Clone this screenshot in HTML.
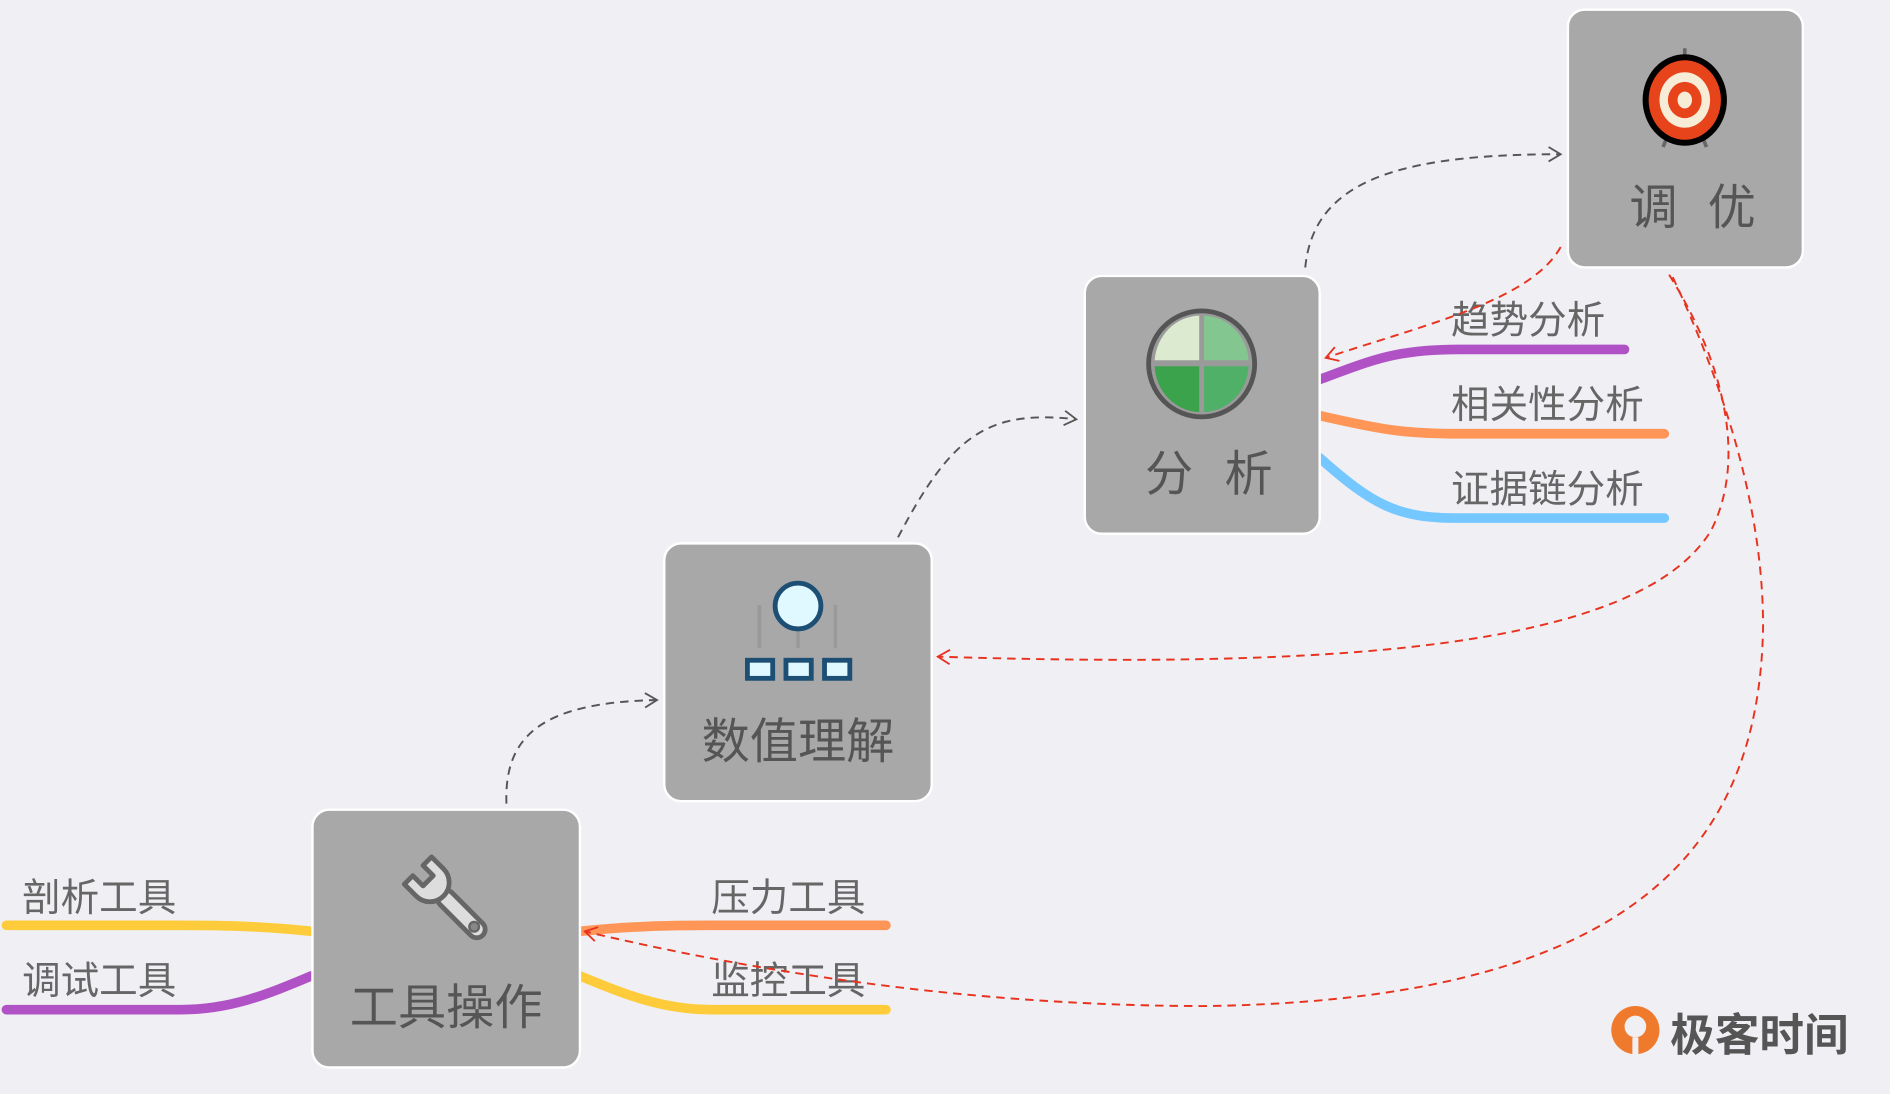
<!DOCTYPE html>
<html><head><meta charset="utf-8"><style>
html,body{margin:0;padding:0;background:#efeff4;}
svg{display:block}
text{font-family:"Liberation Sans","Noto Sans CJK SC",sans-serif;}
</style></head><body>
<svg width="1890" height="1094" viewBox="0 0 1568 908" xmlns="http://www.w3.org/2000/svg">
<rect width="1568" height="908" fill="#efeff4"/>
<defs>
<marker id="ag" markerWidth="14" markerHeight="14" refX="11" refY="7" orient="auto" markerUnits="userSpaceOnUse"><path d="M1,1 L11,7 L1,13" fill="none" stroke="#555" stroke-width="1.5"/></marker>
<marker id="ar" markerWidth="14" markerHeight="14" refX="11" refY="7" orient="auto" markerUnits="userSpaceOnUse"><path d="M1,1 L11,7 L1,13" fill="none" stroke="#e8321e" stroke-width="1.5"/></marker>
</defs>
<g fill="none" stroke-linecap="round" stroke-width="8">
<path d="M258,773 C220,769 190,768 150,768 L5,768" stroke="#fecc3a"/>
<path d="M258,810 C220,826 190,838 150,838 L5,838" stroke="#b052c6"/>
<path d="M481,773 C520,769 550,768 590,768 L735,768" stroke="#ff9657"/>
<path d="M481,810 C520,826 550,838 590,838 L735,838" stroke="#fecc3a"/>
<path d="M1095,315 C1140,298 1160,290 1210,290 L1348,290" stroke="#b052c6"/>
<path d="M1095,345 C1140,355 1160,360 1210,360 L1381,360" stroke="#ff9657"/>
<path d="M1095,380 C1140,420 1160,430 1210,430 L1381,430" stroke="#74c7ff"/>
</g>
<g fill="#a8a8a8" stroke="#fff" stroke-width="2">
<rect x="259" y="672" width="222" height="214" rx="14"/>
<rect x="551" y="451" width="222" height="214" rx="14"/>
<rect x="900" y="229" width="195" height="214" rx="14"/>
<rect x="1301" y="8" width="195" height="214" rx="14"/>
</g>
<g fill="#555" font-size="40" text-anchor="middle">
<text x="370" y="850">工具操作</text>
<text x="662" y="629">数值理解</text>
<text x="970" y="407">分</text><text x="1036" y="407">析</text>
<text x="1372" y="186">调</text><text x="1437" y="186">优</text>
</g>
<g fill="#666" font-size="32">
<text x="18" y="756">剖析工具</text>
<text x="18" y="825">调试工具</text>
<text x="590" y="756">压力工具</text>
<text x="590" y="825">监控工具</text>
<text x="1204" y="277">趋势分析</text>
<text x="1204" y="347">相关性分析</text>
<text x="1204" y="417">证据链分析</text>
</g>
<g transform="translate(372,748) rotate(-45)">
<rect x="-7" y="-10" width="14" height="50" rx="7" fill="#ddd" stroke="#666" stroke-width="4"/>
<path d="M-16,-36 L-16,-22 A16,16 0 0 0 16,-22 L16,-36 L6,-36 L6,-24 L-6,-24 L-6,-36 Z" fill="#ddd" stroke="#666" stroke-width="4" stroke-linejoin="round"/>
<circle cx="0" cy="30" r="4" fill="#888" stroke="#666" stroke-width="2"/>
</g>
<g>
<path d="M630,502 L630,538 M693,502 L693,538" stroke="#999" stroke-width="3" fill="none"/>
<path d="M662,522 L662,538" stroke="#999" stroke-width="3"/>
<circle cx="662" cy="503" r="19" fill="#e0f8ff" stroke="#1d4e74" stroke-width="4"/>
<rect x="620" y="548" width="21" height="15" fill="#e0f8ff" stroke="#1d4e74" stroke-width="4"/>
<rect x="652" y="548" width="21" height="15" fill="#e0f8ff" stroke="#1d4e74" stroke-width="4"/>
<rect x="684" y="548" width="21" height="15" fill="#e0f8ff" stroke="#1d4e74" stroke-width="4"/>
</g>
<g>
<ellipse cx="997" cy="302" rx="44" ry="44" fill="#9a9a9a" stroke="#555" stroke-width="4"/>
<path d="M995,262 L995,299 L958,299 A38,40 0 0 1 995,262Z" fill="#dcebd0"/>
<path d="M999,262 L999,299 L1036,299 A38,40 0 0 0 999,262Z" fill="#84c690"/>
<path d="M995,304 L995,342 A38,40 0 0 1 958,304Z" fill="#3aa34b"/>
<path d="M999,304 L999,342 A38,40 0 0 0 1036,304Z" fill="#50b067"/>
</g>
<g>
<path d="M1398,40 L1398,48 M1384,112 L1380,122 M1412,112 L1416,122" stroke="#666" stroke-width="3"/>
<ellipse cx="1398" cy="83" rx="35" ry="38" fill="#000"/>
<ellipse cx="1398" cy="83" rx="30" ry="33" fill="#e8441c"/>
<ellipse cx="1398" cy="83" rx="21" ry="23" fill="#f7ecd6"/>
<ellipse cx="1398" cy="83" rx="14" ry="15" fill="#e8441c"/>
<ellipse cx="1398" cy="83" rx="6" ry="7" fill="#f7ecd6"/>
</g>
<g fill="none" stroke-width="1.6" stroke-dasharray="7,5">
<path d="M420,667 C418,610 450,583 545,581" stroke="#555" marker-end="url(#ag)"/>
<path d="M745,446 C790,360 820,340 893,348" stroke="#555" marker-end="url(#ag)"/>
<path d="M1083,222 C1090,150 1160,128 1295,128" stroke="#555" marker-end="url(#ag)"/>
<path d="M1295,205 C1270,250 1180,270 1100,297" stroke="#e8321e" marker-end="url(#ar)"/>
<path d="M1385,228 C1430,300 1450,380 1420,440 C1360,540 1100,555 778,545" stroke="#e8321e" marker-end="url(#ar)"/>
<path d="M1388,230 C1430,320 1463,420 1463,520 C1460,700 1360,830 1000,835 C800,835 620,805 485,773" stroke="#e8321e" marker-end="url(#ar)"/>
</g>
<g>
<circle cx="1357" cy="855" r="20" fill="#f07a2c"/>
<circle cx="1357" cy="852" r="9" fill="#efeff4"/>
<path d="M1357,861 L1357,882" stroke="#efeff4" stroke-width="5"/>
<text x="1386" y="872" font-size="37" font-weight="bold" fill="#555">极客时间</text>
</g>
</svg>
</body></html>
